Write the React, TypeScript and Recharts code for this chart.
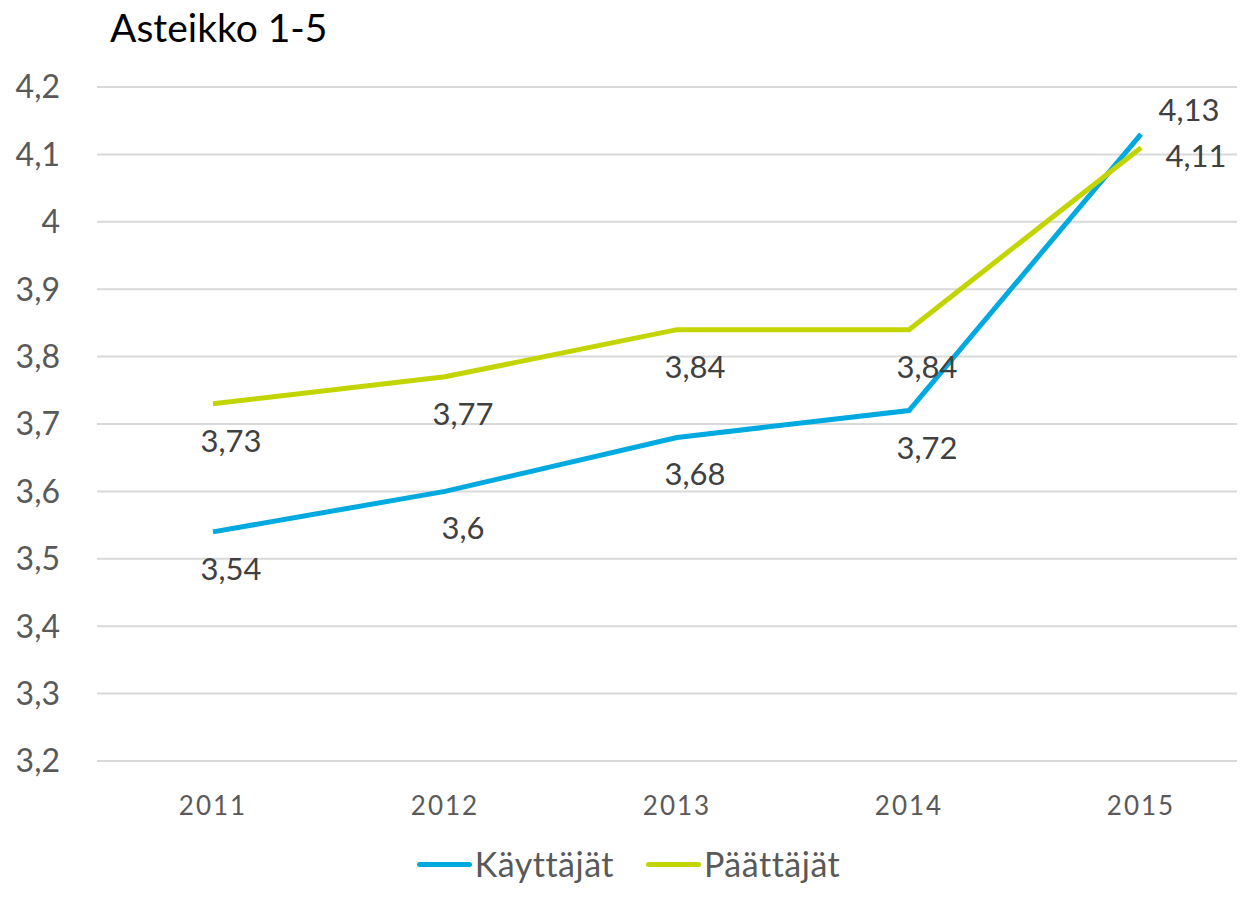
import React from 'react';
import { LineChart, Line, XAxis, YAxis, CartesianGrid, Legend, LabelList } from 'recharts';

const years = ['2011', '2012', '2013', '2014', '2015'];
const kayttajat = [3.54, 3.6, 3.68, 3.72, 4.13];
const paattajat = [3.73, 3.77, 3.84, 3.84, 4.11];
const yTicks = [3.2, 3.3, 3.4, 3.5, 3.6, 3.7, 3.8, 3.9, 4, 4.1, 4.2];

const data = years.map((year, i) => ({ year, kayttajat: kayttajat[i], paattajat: paattajat[i] }));

const BLUE = '#00a9df';
const GREEN = '#c2d500';
const FONT = 'Lato, "Open Sans", sans-serif';

const fmt = (v: number) => String(Math.round(v * 100) / 100).replace('.', ',');

const makeLabel = (lastDx: number, lastDy: number) => (props: any) => {
  const { x, y, value, index } = props;
  const last = index === years.length - 1;
  return (
    <text
      x={last ? x + lastDx : x + 18}
      y={last ? y + lastDy : y + 36}
      textAnchor="middle"
      dominantBaseline="central"
      fill="#404040"
      fontSize={31}
      fontFamily={FONT}
    >
      {fmt(value)}
    </text>
  );
};

const renderLegend = () => (
  <div
    style={{
      display: 'flex',
      justifyContent: 'center',
      gap: 32,
      fontFamily: FONT,
      fontSize: 34,
      lineHeight: '40px',
      color: '#595959',
      letterSpacing: 0.5,
    }}
  >
    {[
      { name: 'Käyttäjät', color: BLUE },
      { name: 'Päättäjät', color: GREEN },
    ].map((s) => (
      <div key={s.name} style={{ display: 'flex', alignItems: 'center' }}>
        <div style={{ width: 55, height: 5, borderRadius: 3, background: s.color, marginRight: 3 }} />
        <span>{s.name}</span>
      </div>
    ))}
  </div>
);

export default function App() {
  return (
    <div style={{ margin: -8, width: 1245, height: 897, overflow: 'hidden', position: 'relative', background: '#fff' }}>
      <div style={{ position: 'absolute', left: 110, top: 4, fontFamily: FONT, fontSize: 39, color: '#000' }}>
        Asteikko 1-5
      </div>
      <LineChart width={1270} height={880} data={data} margin={{ top: 87, right: 13, bottom: 19, left: 0 }}>
        <CartesianGrid vertical={false} stroke="#d9d9d9" strokeWidth={2} />
        <XAxis
          dataKey="year"
          axisLine={false}
          tickLine={false}
          tickSize={0}
          tickMargin={36}
          height={60}
          padding={{ left: 116, right: 116 }}
          tick={{ fill: '#595959', fontSize: 26, fontFamily: FONT, letterSpacing: 2 }}
        />
        <YAxis
          domain={[3.2, 4.2]}
          ticks={yTicks}
          tickFormatter={fmt}
          axisLine={false}
          tickLine={false}
          tickSize={0}
          tickMargin={37}
          width={97}
          tick={{ fill: '#595959', fontSize: 32, fontFamily: FONT }}
        />
        <Legend
          verticalAlign="bottom"
          content={renderLegend}
          wrapperStyle={{ top: 844, bottom: 'auto' }}
        />
        <Line
          dataKey="kayttajat"
          name="Käyttäjät"
          stroke={BLUE}
          strokeWidth={5}
          dot={false}
          isAnimationActive={false}
        >
          <LabelList dataKey="kayttajat" content={makeLabel(48, -25)} />
        </Line>
        <Line
          dataKey="paattajat"
          name="Päättäjät"
          stroke={GREEN}
          strokeWidth={5}
          dot={false}
          isAnimationActive={false}
        >
          <LabelList dataKey="paattajat" content={makeLabel(55, 7)} />
        </Line>
      </LineChart>
    </div>
  );
}
